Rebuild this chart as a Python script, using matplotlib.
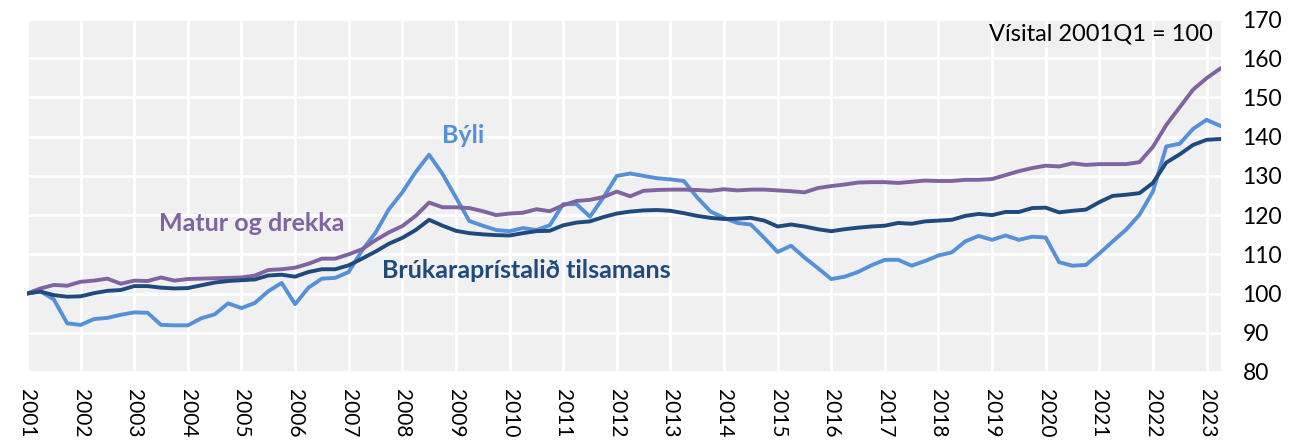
import numpy as np
import matplotlib
matplotlib.use("Agg")
import matplotlib.pyplot as plt

## quarterly index, 2001Q1 = 100, 2001Q1 .. 2023Q2
start_year = 2001
byli = [100, 100.6, 98.5, 92.4, 92, 93.5, 93.8, 94.6, 95.2, 95.1,
        92, 91.9, 91.9, 93.7, 94.7, 97.5, 96.3, 97.6, 100.6, 102.7,
        97.3, 101.5, 103.8, 104, 105.5, 111, 115.5, 121.5, 125.8, 131,
        135.4, 130.5, 124.5, 118.5, 117.3, 116.2, 115.9, 116.7, 116.2, 117.4,
        122.8, 122.8, 119.6, 124.5, 130, 130.6, 130, 129.4, 129.1, 128.7,
        124.5, 120.9, 119.3, 118, 117.6, 114.2, 110.6, 112.2, 109.2, 106.5,
        103.7, 104.3, 105.5, 107.2, 108.6, 108.6, 107.1, 108.3, 109.7, 110.5,
        113.3, 114.7, 113.7, 114.8, 113.7, 114.5, 114.3, 108, 107.1, 107.3,
        110.2, 113.3, 116.3, 120.1, 126, 137.5, 138.2, 142, 144.3, 142.8]
matur = [100, 101.3, 102.2, 102, 103, 103.3, 103.8, 102.5, 103.3, 103.2,
         104.1, 103.3, 103.7, 103.8, 103.9, 104, 104.1, 104.6, 106, 106.2,
         106.6, 107.6, 108.9, 108.9, 110, 111.3, 113.6, 115.6, 117.2, 119.8,
         123.2, 122, 122, 121.8, 121, 120, 120.4, 120.6, 121.5, 121,
         122.5, 123.6, 123.9, 124.6, 126, 124.8, 126.2, 126.4, 126.5, 126.5,
         126.4, 126.2, 126.6, 126.3, 126.5, 126.5, 126.3, 126.1, 125.8, 126.9,
         127.4, 127.8, 128.3, 128.4, 128.4, 128.2, 128.5, 128.8, 128.7, 128.7,
         129, 129, 129.2, 130.2, 131.2, 132, 132.6, 132.4, 133.2, 132.8,
         133, 133, 133, 133.5, 137.4, 143, 147.5, 152, 154.9, 157.3]
brukara = [100, 100.5, 99.6, 99.2, 99.3, 100.1, 100.7, 100.9, 101.9, 101.9,
           101.5, 101.3, 101.4, 102.1, 102.8, 103.2, 103.4, 103.6, 104.6, 104.8,
           104.3, 105.5, 106.2, 106.2, 107.2, 108.9, 110.7, 112.7, 114.2, 116.2,
           118.8, 117.3, 116, 115.4, 115.1, 114.9, 114.8, 115.4, 115.9, 116,
           117.4, 118.1, 118.4, 119.5, 120.4, 120.9, 121.2, 121.3, 121.1, 120.5,
           119.8, 119.3, 119, 119.1, 119.3, 118.6, 117.1, 117.6, 117.1, 116.4,
           115.9, 116.4, 116.8, 117.1, 117.3, 118, 117.8, 118.4, 118.6, 118.8,
           119.8, 120.3, 120, 120.8, 120.8, 121.8, 121.9, 120.7, 121.1, 121.4,
           123.3, 124.9, 125.2, 125.6, 128.2, 133.4, 135.5, 137.9, 139.2, 139.4]
years = list(range(2001, 2024))
yticks = list(range(80, 171, 10))

x = start_year + np.arange(len(byli)) / 4

plt.rcParams['font.family'] = ['Lato', 'DejaVu Sans']

fig = plt.figure(figsize=(12.93, 4.41), dpi=100)
ax = fig.add_axes([27/1293, 1-372/441, (1221-27)/1293, (372-19)/441])
ax.set_facecolor('#f0f0f0')

ax.plot(x, byli, color='#5591d8', lw=2.8, solid_joinstyle='round', zorder=3)
ax.plot(x, matur, color='#8063a1', lw=2.8, solid_joinstyle='round', zorder=3)
ax.plot(x, brukara, color='#1f4a7e', lw=2.8, solid_joinstyle='round', zorder=4)

ax.set_xlim(2001, 2023.27)
ax.set_ylim(80, 170)
ax.set_xticks(years)
ax.set_xticklabels([str(y) for y in years], rotation=270, fontsize=15)
ax.set_yticks(yticks)
ax.yaxis.tick_right()
ax.tick_params(axis='y', labelsize=16.5, length=0, pad=15.5)
ax.tick_params(axis='x', length=0, pad=12)
ax.grid(True, color='white', lw=2)
ax.set_axisbelow(True)
for s in ax.spines.values():
    s.set_visible(False)

ax.text(2005.2, 117.8, 'Matur og drekka', color='#8063a1', fontsize=18,
        fontweight='bold', ha='center', va='center')
ax.text(2009.13, 140.2, 'Býli', color='#5591d8', fontsize=18,
        fontweight='bold', ha='center', va='center')
ax.text(2010.32, 105.8, 'Brúkaraprístalið tilsamans', color='#1f4a7e', fontsize=18,
        fontweight='bold', ha='center', va='center')
ax.text(2023.11, 166.2, 'Vísital 2001Q1 = 100', color='black', fontsize=17,
        ha='right', va='center')

fig.savefig('out.png', dpi=100)
